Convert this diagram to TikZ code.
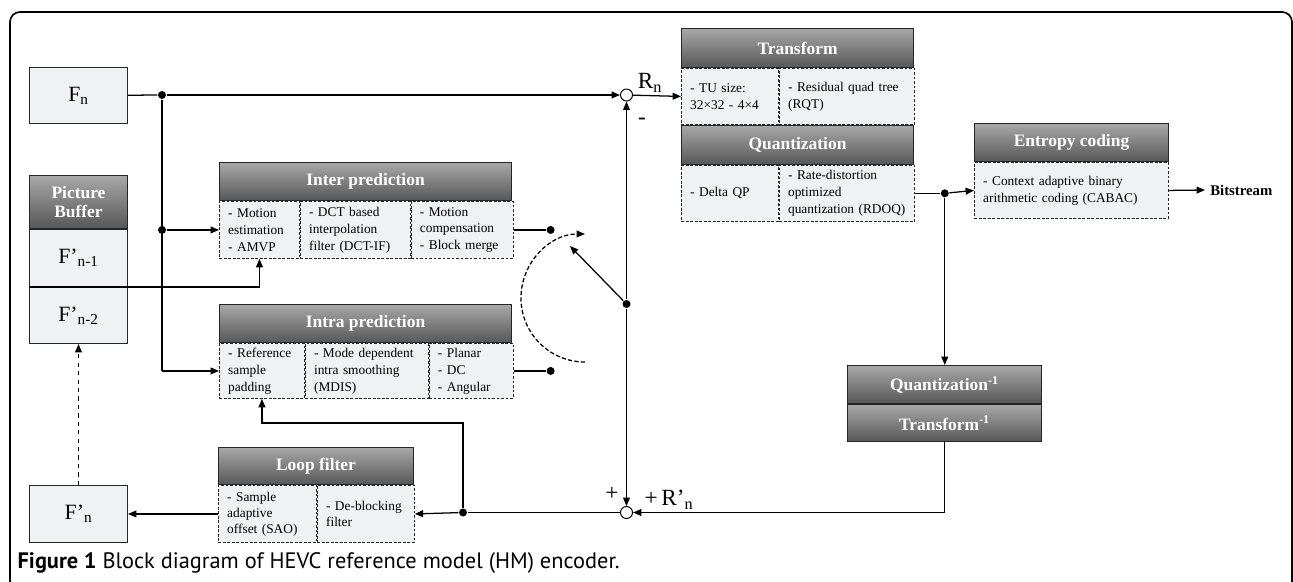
\documentclass[tikz,border=0pt]{standalone}
\usepackage{fontspec}
\setmainfont{Liberation Serif}
\newfontfamily\capfont{PT Sans}
\usetikzlibrary{arrows.meta}
\definecolor{CellGray}{HTML}{F0F1F3}
\definecolor{HeadTop}{HTML}{A8A8A8}
\definecolor{HeadBot}{HTML}{575757}

\tikzset{
  hd/.style={draw=black!85,line width=0.7pt,top color=HeadTop,bottom color=HeadBot,text=white,
    font=\fontsize{12.4}{14}\selectfont\bfseries,anchor=north west,inner sep=0pt,minimum height=0.95cm,align=center},
  cell/.style={draw=black!85,line width=0.6pt,dash pattern=on 2pt off 1.2pt,fill=CellGray,
    font=\fontsize{9.5}{12}\selectfont,align=left,anchor=north west,inner xsep=0.22cm,inner ysep=0pt,text width=#1},
  box/.style={draw=black!85,line width=0.7pt,fill=CellGray,minimum width=2.45cm,
    font=\fontsize{15.5}{18}\selectfont,anchor=north west,inner sep=0pt},
  dot/.style={circle,fill,inner sep=0pt,minimum size=0.2cm},
  sum/.style={circle,draw,line width=0.7pt,fill=white,inner sep=0pt,minimum size=0.3cm},
  arr/.style={-{Triangle[length=0.21cm,width=0.17cm]}},
  sign/.style={font=\fontsize{16.5}{18}\selectfont,inner sep=0pt}
}

\begin{document}
\begin{tikzpicture}[x=0.025cm,y=-0.025cm,line width=0.9pt]
  \useasboundingbox (0,0) rectangle (1293,581);
  \clip (0,0) rectangle (1293,581);
  \draw[line width=1.2pt,rounded corners=0.25cm] (10,12) rectangle (1292,640);

  % frames and buffer
  \node[box,minimum height=1.4cm] (fn) at (29,67) {F\textsubscript{n}};
  \node[hd,minimum width=2.45cm,minimum height=1.325cm] (bufhd) at (29,175) {Picture\\Buffer};
  \node[box,minimum height=1.425cm] (buf1) at (bufhd.south west) {F’\textsubscript{n-1}};
  \node[box,minimum height=1.4cm] (buf2) at (buf1.south west) {F’\textsubscript{n-2}};
  \node[box,minimum height=1.425cm] (fpn) at (29,485) {F’\textsubscript{n}};

  % prediction
  \node[hd,minimum width=7.3cm] (interhd) at (219,162) {Inter prediction};
  \node[cell=1.56cm,minimum height=1.425cm] (inter1) at (interhd.south west) {- Motion\\estimation\\- AMVP};
  \node[cell=2.31cm,minimum height=1.425cm] (inter2) at (inter1.north east) {- DCT based\\interpolation\\filter~(DCT-IF)};
  \node[cell=2.11cm,minimum height=1.425cm] (inter3) at (inter2.north east) {- Motion\\compensation\\- Block~merge};
  \node[hd,minimum width=7.3cm] (intrahd) at (219,304) {Intra prediction};
  \node[cell=1.685cm,minimum height=1.375cm] (intra1) at (intrahd.south west) {- Reference\\sample\\padding};
  \node[cell=2.635cm,minimum height=1.375cm] (intra2) at (intra1.north east) {- Mode~dependent\\intra~smoothing\\(MDIS)};
  \node[cell=1.66cm,minimum height=1.375cm] (intra3) at (intra2.north east) {- Planar\\- DC\\- Angular};

  % loop filter
  \node[hd,minimum width=4.875cm,minimum height=0.925cm] (lfhd) at (218,447) {Loop filter};
  \node[cell=2.01cm,minimum height=1.425cm,font=\fontsize{9.5}{11.4}\selectfont] (lf1) at (lfhd.south west) {- Sample\\adaptive\\offset~(SAO)};
  \node[cell=1.985cm,minimum height=1.425cm,font=\fontsize{9.5}{11.4}\selectfont] (lf2) at (lf1.north east) {- De-blocking\\filter};

  % transform and quantization
  \node[hd,minimum width=5.8cm,minimum height=0.975cm] (trhd) at (681,28) {Transform};
  \node[cell=1.985cm,minimum height=1.4cm] (tr1) at (trhd.south west) {- TU size:\\32×32 - 4×4};
  \node[cell=2.935cm,minimum height=1.4cm] (tr2) at (tr1.north east) {- Residual~quad~tree\\(RQT)};
  \node[hd,minimum width=5.8cm,minimum height=0.975cm] (qhd) at (tr1.south west) {Quantization};
  \node[cell=1.985cm,minimum height=1.4cm] (q1) at (qhd.south west) {- Delta QP};
  \node[cell=2.935cm,minimum height=1.4cm] (q2) at (q1.north east) {- Rate-distortion\\optimized\\quantization~(RDOQ)};
  \node[hd,minimum width=4.85cm] (enthd) at (974,123) {Entropy coding};
  \node[cell=4.41cm,minimum height=1.4cm] (ent) at (enthd.south west) {- Context adaptive binary\\arithmetic coding (CABAC)};
  \node[font=\fontsize{10.5}{12}\selectfont\bfseries,anchor=west] (bits) at (1205,190) {Bitstream};
  \node[hd,minimum width=4.85cm] (invq) at (847,365) {Quantization\textsuperscript{-1}};
  \node[hd,minimum width=4.85cm,minimum height=0.925cm] (invt) at (invq.south west) {Transform\textsuperscript{-1}};

  % junctions
  \node[dot] (d1) at (162,95) {};
  \node[dot] (d2) at (d1 |- inter1.west) {};
  \coordinate (c1) at (d1 |- intra1.west);
  \node[sum] (sumtop) at (626.5,95) {};
  \node[sum] (sumbot) at (626.5,512.5) {};
  \node[dot] (interdot) at ([xshift=0.925cm]inter3.east) {};
  \node[dot] (intradot) at ([xshift=0.925cm]intra3.east) {};
  \node[dot] (sw) at (626.5,304) {};
  \coordinate (swtip) at (570,246);
  \node[dot] (qdot) at ([xshift=0.75cm]q2.east) {};
  \node[dot] (lfdot) at (463,512.5) {};
  \coordinate (lfup) at (463,423);

  \node[sign] (rn) at (650,83) {R\textsubscript{n}};
  \node[sign] (minus) at (642,121) {-};
  \node[sign] (plusa) at (612,494) {+};
  \node[sign] (rpn) at (669,500) {+\,R’\textsubscript{n}};
  \node[font=\capfont\fontsize{15.9}{18}\selectfont,anchor=base west,inner sep=0pt] (cap) at (17,568)
    {\textbf{Figure 1} Block diagram of HEVC reference model (HM) encoder.};

  % connections
  \draw (fn) -- (d1);
  \draw[arr] (d1) -- (sumtop);
  \draw (d1) -- (c1);
  \draw[arr] (d2) -- (inter1.west);
  \draw[arr] (c1) -- (intra1.west);
  \draw[arr] (buf2.north west) -| (inter1.south);
  \draw[arr,dashed] (fpn) -- (buf2);
  \draw (inter3.east) -- (interdot);
  \draw (intra3.east) -- (intradot);
  \draw[arr,dash pattern=on 3pt off 1.6pt] (585,362) arc[start angle=-90,end angle=-270,radius=1.6cm];
  \draw[arr] (sw) -- (swtip);
  \draw[arr] (sw) -- (sumtop);
  \draw[arr] (sw) -- (sumbot);
  \draw[arr] (sumtop) -- (tr1.west);
  \draw (q2.east) -- (qdot);
  \draw[arr] (qdot) -- (ent.west);
  \draw[arr] (ent.east) -- (bits.west);
  \draw[arr] (qdot) -- (qdot |- invq.north);
  \draw[arr] (invt.south) |- (sumbot);
  \draw (sumbot) -- (lfdot);
  \draw[arr] (lfdot) -- (lf2.east);
  \draw[arr] (lfdot) -- (lfup) -| (intra1.south);
  \draw[arr] (lf1.west) -- (lf1.west -| fpn.east);
\end{tikzpicture}
\end{document}
